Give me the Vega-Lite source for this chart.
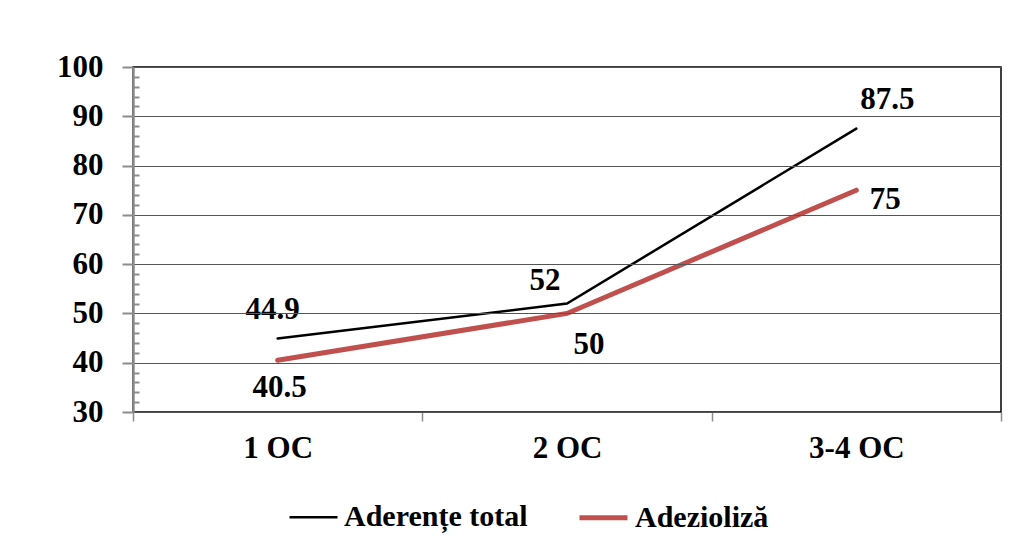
{
  "$schema": "https://vega.github.io/schema/vega-lite/v6.json",
  "autosize": "none",
  "width": 868,
  "height": 345,
  "padding": {"left": 133, "top": 67, "right": 20, "bottom": 132},
  "background": "white",
  "config": {
    "view": {"stroke": "#000000", "strokeWidth": 1.5},
    "font": "Liberation Serif"
  },
  "data": {
    "values": [
      {"grupa": "1 OC", "serie": "Aderențe total", "valoare": 44.9},
      {"grupa": "2 OC", "serie": "Aderențe total", "valoare": 52},
      {"grupa": "3-4 OC", "serie": "Aderențe total", "valoare": 87.5},
      {"grupa": "1 OC", "serie": "Adezioliză", "valoare": 40.5},
      {"grupa": "2 OC", "serie": "Adezioliză", "valoare": 50},
      {"grupa": "3-4 OC", "serie": "Adezioliză", "valoare": 75}
    ]
  },
  "encoding": {
    "x": {
      "field": "grupa", "type": "nominal", "sort": ["1 OC", "2 OC", "3-4 OC"],
      "scale": {"paddingInner": 0, "paddingOuter": 0},
      "axis": {
        "title": null, "labelAngle": 0, "domain": false, "grid": false,
        "tickBand": "extent", "tickColor": "#8c8c8c", "tickWidth": 1.5, "tickSize": 9,
        "labelFont": "Liberation Serif", "labelFontWeight": "bold", "labelFontSize": 31,
        "labelColor": "#000000", "labelPadding": 12
      }
    },
    "y": {
      "field": "valoare", "type": "quantitative",
      "scale": {"domain": [30, 100], "nice": false, "zero": false},
      "axis": null
    }
  },
  "layer": [
    {
      "mark": {"type": "line", "strokeCap": "round"},
      "encoding": {
        "color": {
          "field": "serie", "type": "nominal",
          "scale": {"domain": ["Aderențe total", "Adezioliză"], "range": ["#000000", "#C0504D"]},
          "legend": {
            "title": null, "orient": "none", "direction": "horizontal",
            "legendX": 155, "legendY": 424,
            "symbolType": "stroke", "symbolSize": 2304,
            "labelFont": "Liberation Serif", "labelFontWeight": "bold", "labelFontSize": 30,
            "labelColor": "#000000", "labelOffset": 5, "columnPadding": 41, "labelLimit": 400
          }
        },
        "strokeWidth": {
          "field": "serie", "type": "nominal",
          "scale": {"domain": ["Aderențe total", "Adezioliză"], "range": [2.5, 5]},
          "legend": null
        },
        "y": {
          "field": "valoare", "type": "quantitative",
          "axis": {
            "title": null, "orient": "left", "values": [30, 40, 50, 60, 70, 80, 90, 100],
            "grid": true, "gridColor": "#555555", "gridWidth": 1,
            "domainColor": "#8c8c8c", "domainWidth": 2.5,
            "tickColor": "#8c8c8c", "tickWidth": 2, "tickSize": 11,
            "labelFont": "Liberation Serif", "labelFontWeight": "bold", "labelFontSize": 31,
            "labelColor": "#000000", "labelPadding": 19, "zindex": 1
          }
        }
      }
    },
    {
      "mark": {"type": "point", "opacity": 0},
      "encoding": {
        "y": {
          "field": "valoare", "type": "quantitative",
          "axis": {
            "title": null, "orient": "left",
            "values": [32, 34, 36, 38, 42, 44, 46, 48, 52, 54, 56, 58, 62, 64, 66, 68, 72, 74, 76, 78, 82, 84, 86, 88, 92, 94, 96, 98],
            "grid": false, "domain": false, "labels": false,
            "tickColor": "#8c8c8c", "tickWidth": 2, "tickSize": -6, "zindex": 1
          }
        }
      }
    },
    {
      "transform": [{"filter": "datum.serie === 'Aderențe total' && datum.grupa === '1 OC'"}],
      "mark": {"type": "text", "font": "Liberation Serif", "fontWeight": "bold", "fontSize": 31, "color": "#000000", "baseline": "middle", "align": "center", "dx": -5, "dy": -29},
      "encoding": {"text": {"field": "valoare", "type": "quantitative"}}
    },
    {
      "transform": [{"filter": "datum.serie === 'Adezioliză' && datum.grupa === '1 OC'"}],
      "mark": {"type": "text", "font": "Liberation Serif", "fontWeight": "bold", "fontSize": 31, "color": "#000000", "baseline": "middle", "align": "center", "dx": 2, "dy": 28},
      "encoding": {"text": {"field": "valoare", "type": "quantitative"}}
    },
    {
      "transform": [{"filter": "datum.serie === 'Aderențe total' && datum.grupa === '2 OC'"}],
      "mark": {"type": "text", "font": "Liberation Serif", "fontWeight": "bold", "fontSize": 31, "color": "#000000", "baseline": "middle", "align": "center", "dx": -22, "dy": -23},
      "encoding": {"text": {"field": "valoare", "type": "quantitative"}}
    },
    {
      "transform": [{"filter": "datum.serie === 'Adezioliză' && datum.grupa === '2 OC'"}],
      "mark": {"type": "text", "font": "Liberation Serif", "fontWeight": "bold", "fontSize": 31, "color": "#000000", "baseline": "middle", "align": "center", "dx": 22, "dy": 32},
      "encoding": {"text": {"field": "valoare", "type": "quantitative"}}
    },
    {
      "transform": [{"filter": "datum.serie === 'Aderențe total' && datum.grupa === '3-4 OC'"}],
      "mark": {"type": "text", "font": "Liberation Serif", "fontWeight": "bold", "fontSize": 31, "color": "#000000", "baseline": "middle", "align": "center", "dx": 31, "dy": -29},
      "encoding": {"text": {"field": "valoare", "type": "quantitative"}}
    },
    {
      "transform": [{"filter": "datum.serie === 'Adezioliză' && datum.grupa === '3-4 OC'"}],
      "mark": {"type": "text", "font": "Liberation Serif", "fontWeight": "bold", "fontSize": 31, "color": "#000000", "baseline": "middle", "align": "center", "dx": 29, "dy": 10},
      "encoding": {"text": {"field": "valoare", "type": "quantitative"}}
    }
  ],
  "resolve": {"axis": {"y": "independent"}}
}
